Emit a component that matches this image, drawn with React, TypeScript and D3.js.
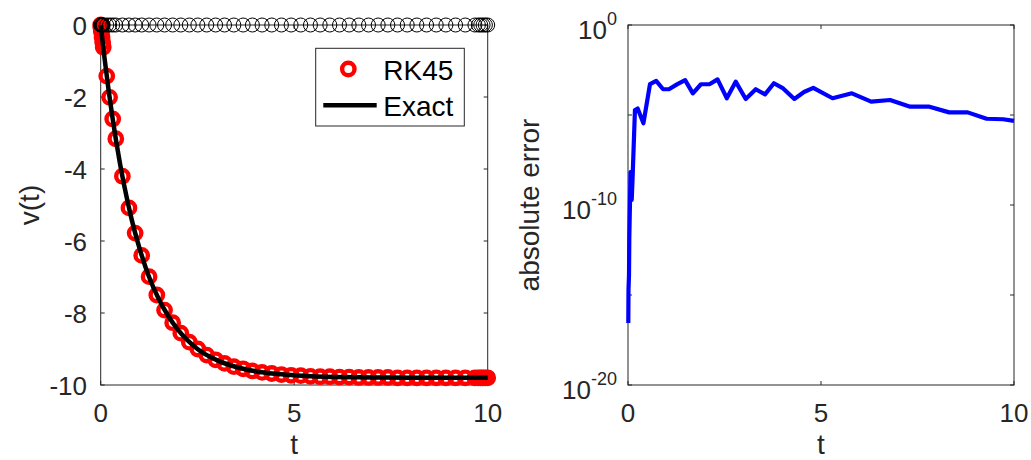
import React from "react";
import * as d3 from "d3";

// ---------- data ----------
const rkT = [0, 0.005, 0.01, 0.015, 0.02, 0.035, 0.05, 0.065, 0.156, 0.23, 0.31, 0.39, 0.56, 0.73, 0.89, 1.06, 1.25, 1.45, 1.65, 1.86, 2.07, 2.29, 2.51, 2.74, 2.97, 3.2, 3.44, 3.68, 3.92, 4.17, 4.42, 4.67, 4.92, 5.17, 5.42, 5.67, 5.92, 6.17, 6.42, 6.67, 6.92, 7.17, 7.42, 7.67, 7.92, 8.17, 8.42, 8.67, 8.92, 9.17, 9.42, 9.67, 9.76, 9.82, 9.88, 9.94, 10];
const rkV = [0, -0.049, -0.098, -0.146, -0.194, -0.337, -0.478, -0.617, -1.42, -2.01, -2.61, -3.16, -4.2, -5.08, -5.78, -6.4, -6.99, -7.5, -7.92, -8.27, -8.56, -8.81, -9.0, -9.17, -9.3, -9.4, -9.49, -9.55, -9.61, -9.65, -9.68, -9.71, -9.73, -9.74, -9.76, -9.77, -9.77, -9.78, -9.78, -9.79, -9.79, -9.79, -9.79, -9.8, -9.8, -9.8, -9.8, -9.8, -9.8, -9.8, -9.8, -9.8, -9.8, -9.8, -9.8, -9.8, -9.8];

const exactT = [0, 0.1, 0.2, 0.3, 0.4, 0.5, 0.6, 0.8, 1, 1.25, 1.5, 1.75, 2, 2.5, 3, 3.5, 4, 4.5, 5, 6, 7, 8, 9, 10];
const exactV = [0, -0.93, -1.78, -2.54, -3.23, -3.86, -4.42, -5.4, -6.19, -7.0, -7.61, -8.09, -8.47, -9.0, -9.31, -9.5, -9.62, -9.69, -9.73, -9.78, -9.79, -9.8, -9.8, -9.8];

const errT = [0.008, 0.013, 0.026, 0.034, 0.05, 0.065, 0.096, 0.117, 0.18, 0.25, 0.4, 0.57, 0.73, 0.91, 1.06, 1.28, 1.48, 1.68, 1.89, 2.11, 2.32, 2.56, 2.79, 3.05, 3.31, 3.55, 3.78, 4.02, 4.31, 4.56, 4.8, 5.3, 5.8, 6.3, 6.79, 7.31, 7.81, 8.32, 8.8, 9.29, 9.72, 10];
const errV = [2.8e-17, 2e-15, 1.3e-14, 1.5e-12, 1e-10, 6.8e-9, 1.9e-10, 2.5e-9, 1.9e-5, 2.3e-5, 3.5e-6, 5.2e-4, 7.8e-4, 2.7e-4, 2.7e-4, 5.2e-4, 8.7e-4, 1.6e-4, 5.1e-4, 5.1e-4, 9.5e-4, 8.5e-5, 7.1e-4, 7.8e-5, 2.7e-4, 1.4e-4, 5.8e-4, 3.0e-4, 7.8e-5, 1.9e-4, 3.2e-4, 8.5e-5, 1.6e-4, 5.5e-5, 6.8e-5, 2.9e-5, 2.9e-5, 1.4e-5, 1.4e-5, 6.2e-6, 5.8e-6, 4.7e-6];

const xTicks = [0, 5, 10];
const vTicks = [0, -2, -4, -6, -8, -10];
const errTicks = [1, 1e-5, 1e-10, 1e-15, 1e-20];
const errLabelTicks = [1, 1e-10, 1e-20];

const legendNames = ["RK45", "Exact"];

// ---------- layout ----------
const W = 1031, H = 460;
const L = { x0: 100.7, x1: 487.7, y0: 25, y1: 385 };
const R = { x0: 628, x1: 1014, y0: 25, y1: 385 };
const AX = "#262626";
const FONT = "'Liberation Sans', Arial, Helvetica, sans-serif";
const TICK_FS = 26;
const LABEL_FS = 28;
const TL = 4;

export default function App() {
  const xL = d3.scaleLinear().domain([0, 10]).range([L.x0, L.x1]);
  const yL = d3.scaleLinear().domain([-10, 0]).range([L.y1, L.y0]);
  const xR = d3.scaleLinear().domain([0, 10]).range([R.x0, R.x1]);
  const yR = d3.scaleLog().domain([1e-20, 1]).range([R.y1, R.y0]);

  const exactLine = d3
    .line<number>()
    .x((_, i) => xL(exactT[i]))
    .y((d) => yL(d))
    .curve(d3.curveMonotoneX)(exactV) as string;

  const errLine = d3
    .line<number>()
    .x((_, i) => xR(errT[i]))
    .y((d) => yR(d))(errV) as string;

  const supLabel = (v: number) => String(Math.round(Math.log10(v)));

  return (
    <svg
      width={W}
      height={H}
      style={{ position: "absolute", left: 0, top: 0, background: "#fff" }}
      fontFamily={FONT}
    >
      <rect x={0} y={0} width={W} height={H} fill="#fff" />

      {/* ===== Left axes ===== */}
      <g>
        <rect x={L.x0} y={L.y0} width={L.x1 - L.x0} height={L.y1 - L.y0} fill="none" stroke={AX} strokeWidth={1} />
        {xTicks.map((t) => (
          <g key={"lx" + t}>
            <line x1={xL(t)} x2={xL(t)} y1={L.y1} y2={L.y1 - TL} stroke={AX} />
            <line x1={xL(t)} x2={xL(t)} y1={L.y0} y2={L.y0 + TL} stroke={AX} />
            <text x={xL(t)} y={422} textAnchor="middle" fontSize={TICK_FS} fill={AX}>
              {t}
            </text>
          </g>
        ))}
        {vTicks.map((v) => (
          <g key={"ly" + v}>
            <line x1={L.x0} x2={L.x0 + TL} y1={yL(v)} y2={yL(v)} stroke={AX} />
            <line x1={L.x1} x2={L.x1 - TL} y1={yL(v)} y2={yL(v)} stroke={AX} />
            <text x={87} y={yL(v) + 9.5} textAnchor="end" fontSize={TICK_FS} fill={AX}>
              {v}
            </text>
          </g>
        ))}
        <text x={(L.x0 + L.x1) / 2} y={454} textAnchor="middle" fontSize={LABEL_FS} fill={AX}>
          t
        </text>
        <text
          transform={`translate(39,${(L.y0 + L.y1) / 2}) rotate(-90)`}
          textAnchor="middle"
          fontSize={LABEL_FS}
          fill={AX}
        >
          v(t)
        </text>

        {rkT.map((t, i) => (
          <circle key={"rk" + i} cx={xL(t)} cy={yL(rkV[i])} r={6.2} fill="none" stroke="#ff0000" strokeWidth={4.4} />
        ))}
        {/* markers of the same time points along v = 0 */}
        {rkT.map((t, i) => (
          <circle key={"z" + i} cx={xL(t)} cy={yL(0)} r={7} fill="none" stroke="#000" strokeWidth={1} />
        ))}
        <path d={exactLine} fill="none" stroke="#000" strokeWidth={4.5} strokeLinejoin="round" />

        {/* legend */}
        <rect x={315.7} y={48.3} width={148.6} height={77.7} fill="#fff" stroke={AX} strokeWidth={1} />
        <circle cx={348.3} cy={69} r={6.2} fill="none" stroke="#ff0000" strokeWidth={4.4} />
        <line x1={323.3} x2={376.7} y1={105.3} y2={105.3} stroke="#000" strokeWidth={4.5} />
        <text x={383.3} y={79.5} fontSize={28} fill="#000">
          {legendNames[0]}
        </text>
        <text x={383.3} y={116} fontSize={28} fill="#000">
          {legendNames[1]}
        </text>
      </g>

      {/* ===== Right axes ===== */}
      <g>
        <rect x={R.x0} y={R.y0} width={R.x1 - R.x0} height={R.y1 - R.y0} fill="none" stroke={AX} strokeWidth={1} />
        {xTicks.map((t) => (
          <g key={"rx" + t}>
            <line x1={xR(t)} x2={xR(t)} y1={R.y1} y2={R.y1 - TL} stroke={AX} />
            <line x1={xR(t)} x2={xR(t)} y1={R.y0} y2={R.y0 + TL} stroke={AX} />
            <text x={xR(t)} y={422} textAnchor="middle" fontSize={TICK_FS} fill={AX}>
              {t}
            </text>
          </g>
        ))}
        {errTicks.map((v) => (
          <g key={"ry" + v}>
            <line x1={R.x0} x2={R.x0 + TL} y1={yR(v)} y2={yR(v)} stroke={AX} />
            <line x1={R.x1} x2={R.x1 - TL} y1={yR(v)} y2={yR(v)} stroke={AX} />
          </g>
        ))}
        {errLabelTicks.map((v) => (
          <text key={"ryl" + v} x={617} y={yR(v) + 14} textAnchor="end" fontSize={TICK_FS} fill={AX}>
            10
            <tspan dy={-14} fontSize={18}>
              {supLabel(v)}
            </tspan>
          </text>
        ))}
        <text x={(R.x0 + R.x1) / 2} y={454} textAnchor="middle" fontSize={LABEL_FS} fill={AX}>
          t
        </text>
        <text
          transform={`translate(539,${(R.y0 + R.y1) / 2}) rotate(-90)`}
          textAnchor="middle"
          fontSize={LABEL_FS}
          fill={AX}
        >
          absolute error
        </text>
        <path d={errLine} fill="none" stroke="#0000ff" strokeWidth={4.2} strokeLinejoin="round" />
      </g>
    </svg>
  );
}
